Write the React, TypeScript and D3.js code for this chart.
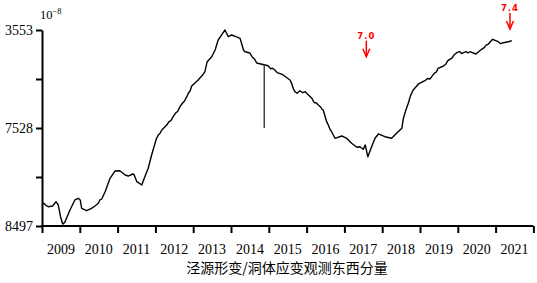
import React, { useEffect, useRef } from 'react';
import * as d3 from 'd3';

// observation series: decimal year, strain (arbitrary units, 10^-8 scale)
const years = [
  2009.03, 2009.11, 2009.17, 2009.28, 2009.37, 2009.43, 2009.49, 2009.54, 2009.56, 2009.61,
  2009.74, 2009.87, 2009.96, 2010.01, 2010.05, 2010.18, 2010.31, 2010.40, 2010.49, 2010.53,
  2010.58, 2010.67, 2010.80, 2010.93, 2011.06, 2011.20, 2011.28, 2011.40, 2011.43, 2011.51,
  2011.64, 2011.72, 2011.81, 2011.90, 2012.03, 2012.08, 2012.12, 2012.17, 2012.30, 2012.36,
  2012.41, 2012.47, 2012.53, 2012.59, 2012.65, 2012.71, 2012.77, 2012.83, 2012.88, 2012.92,
  2012.96, 2013.13, 2013.19, 2013.25, 2013.31, 2013.37, 2013.49, 2013.58, 2013.66, 2013.78,
  2013.84, 2013.93, 2014.02, 2014.13, 2014.24, 2014.33, 2014.37, 2014.50, 2014.56, 2014.62,
  2014.68, 2014.90, 2014.98, 2015.05, 2015.10, 2015.16, 2015.22, 2015.30, 2015.38, 2015.56,
  2015.60, 2015.65, 2015.69, 2015.75, 2015.82, 2015.90, 2015.96, 2016.14, 2016.20, 2016.26,
  2016.31, 2016.37, 2016.41, 2016.44, 2016.53, 2016.58, 2016.62, 2016.66, 2016.75, 2016.93,
  2017.06, 2017.19, 2017.33, 2017.41, 2017.50, 2017.55, 2017.62, 2017.72, 2017.81, 2017.90,
  2018.07, 2018.25, 2018.38, 2018.52, 2018.56, 2018.62, 2018.69, 2018.75, 2018.82, 2018.96,
  2019.13, 2019.20, 2019.26, 2019.31, 2019.38, 2019.43, 2019.48, 2019.62, 2019.68, 2019.73,
  2019.79, 2019.85, 2019.90, 2019.97, 2020.05, 2020.10, 2020.15, 2020.22, 2020.27, 2020.32,
  2020.48, 2020.63, 2020.70, 2020.75, 2020.81, 2020.92, 2021.07, 2021.13, 2021.20, 2021.34,
  2021.43,
];
const strain = [
  47.6, 41.8, 39.4, 40.8, 49.6, 42.9, 19.0, 5.5, 4.1, 8.8,
  32.7, 53.1, 56.5, 53.1, 36.1, 31.2, 36.1, 40.8, 46.3, 53.1,
  55.1, 70.0, 97.3, 112.2, 112.9, 104.1, 102.0, 106.1, 105.5, 90.4,
  83.7, 100.6, 117.8, 144.9, 179.0, 186.0, 189.0, 195.9, 206.1, 213.0,
  215.0, 223.1, 230.0, 234.0, 243.5, 250.0, 255.0, 263.9, 272.0, 276.0,
  285.7, 298.0, 303.0, 308.0, 314.9, 335.3, 345.5, 359.2, 379.6, 393.3,
  400.0, 386.3, 389.8, 386.3, 383.1, 359.2, 355.7, 353.1, 345.0, 341.0,
  332.7, 328.6, 327.0, 321.0, 322.0, 318.4, 313.0, 311.0, 308.2, 298.0,
  292.0, 280.0, 274.1, 271.0, 276.0, 272.0, 274.1, 260.6, 252.0, 251.0,
  246.9, 243.0, 238.0, 236.7, 212.9, 205.0, 197.0, 192.4, 179.0, 183.7,
  179.0, 168.8, 160.6, 161.8, 156.5, 165.3, 141.4, 161.8, 179.0, 187.8,
  182.2, 179.0, 189.2, 199.4, 219.8, 235.0, 250.4, 266.0, 277.6, 289.8,
  296.5, 301.0, 300.0, 304.7, 312.0, 314.0, 321.8, 326.5, 330.0, 337.0,
  340.2, 343.0, 349.0, 353.7, 356.0, 352.0, 353.7, 356.0, 353.0, 355.7,
  351.0, 360.6, 364.0, 369.0, 371.4, 381.0, 376.1, 372.0, 374.1, 376.1,
  378.2,
];

const yTickValues = [0, 100, 200, 300, 400];
const yTickLabels = ['8497', '', '7528', '', '3553'];
const xTickYears = d3.range(2009, 2023);
const yearLabels = d3.range(2009, 2022).map(String);

// earthquake markers (magnitude labels) and the offset marker
const quakeLabels = ['7.0', '7.4'];
const quakeYears = [2017.58, 2021.38];
const quakeTips = [345.5, 402];
const markYear = 2014.88;
const markRange = [200, 328.6];

const W = 537;
const H = 283;

export default function App() {
  const ref = useRef<SVGSVGElement>(null);

  const x = d3.scaleLinear().domain([2009, 2022]).range([42, 533.4]);
  const y = d3.scaleLinear().domain([0, 400]).range([226, 30]);

  const line = d3
    .line<number>()
    .x((_, i) => x(years[i]))
    .y((d) => y(d));

  useEffect(() => {
    const svg = d3.select(ref.current);
    svg.selectAll('.axis').remove();

    const yAxis = d3
      .axisLeft(y)
      .tickValues(yTickValues)
      .tickSize(6)
      .tickSizeOuter(0)
      .tickFormat((_, i) => yTickLabels[i]);
    const gy = svg
      .append('g')
      .attr('class', 'axis')
      .attr('transform', 'translate(42,0)')
      .call(yAxis);
    gy.selectAll('path, line').attr('stroke', '#000').attr('stroke-width', 2);
    gy.selectAll('text')
      .attr('font-family', '"Liberation Serif", serif')
      .attr('font-size', 14)
      .attr('fill', '#000')
      .attr('x', -9);

    const xAxis = d3
      .axisBottom(x)
      .tickValues(xTickYears)
      .tickSize(7)
      .tickSizeOuter(0)
      .tickFormat(() => '');
    const gx = svg
      .append('g')
      .attr('class', 'axis')
      .attr('transform', 'translate(0,226)')
      .call(xAxis);
    gx.selectAll('path, line').attr('stroke', '#000').attr('stroke-width', 2);
    gx.selectAll('.domain').attr('d', `M${x(2009) - 1},0H${x(2022)}`);
  }, []);

  return (
    <svg
      ref={ref}
      width={W}
      height={H}
      style={{ position: 'absolute', left: 0, top: 0, background: '#fff' }}
    >
      <text x={40} y={19} fontFamily='"Liberation Serif", serif' fontSize={12.5}>
        10
        <tspan fontSize={8.5} dy={-5}>
          −8
        </tspan>
      </text>

      <path d={line(strain) ?? ''} fill="none" stroke="#000" strokeWidth={1.4} strokeLinejoin="round" />

      <line
        x1={x(markYear)}
        x2={x(markYear)}
        y1={y(markRange[0])}
        y2={y(markRange[1])}
        stroke="#444"
        strokeWidth={1.5}
      />

      {quakeLabels.map((lab, i) => {
        const cx = x(quakeYears[i]);
        const ty = y(quakeTips[i]);
        return (
          <g key={lab} fill="none" stroke="#ff0000" strokeWidth={1.5}>
            <line x1={cx} x2={cx} y1={ty - 16} y2={ty} />
            <polyline points={`${cx - 3.5},${ty - 8} ${cx},${ty} ${cx + 3.5},${ty - 8}`} />
            <text
              x={cx}
              y={ty - 18}
              textAnchor="middle"
              fill="#ff0000"
              stroke="none"
              fontFamily="'DejaVu Sans', sans-serif"
              fontWeight="bold"
              fontSize={8.5}
              letterSpacing={1}
            >
              {lab}
            </text>
          </g>
        );
      })}

      {yearLabels.map((lab, i) => (
        <text
          key={lab}
          x={x(2009 + i + 0.5)}
          y={254}
          textAnchor="middle"
          fontFamily='"Liberation Serif", serif'
          fontSize={14}
        >
          {lab}
        </text>
      ))}

      <text
        x={287}
        y={273}
        textAnchor="middle"
        fontFamily='"Noto Sans CJK SC", sans-serif'
        fontSize={14}
      >
        泾源形变/洞体应变观测东西分量
      </text>
    </svg>
  );
}
